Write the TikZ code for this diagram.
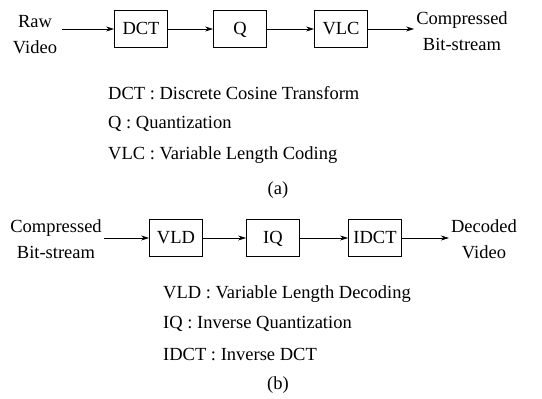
\documentclass[tikz,border=0pt]{standalone}
\usepackage{fontspec}
\setmainfont{Liberation Serif}
\usepackage{tikz}
\usetikzlibrary{arrows.meta,positioning,calc}

\begin{document}
\begin{tikzpicture}[x=1pt,y=-1pt,
    font=\fontsize{18.5}{26}\selectfont,
    block/.style={draw, line width=0.9pt, minimum width=53pt, minimum height=37pt, inner sep=0pt,
        text height=12.5pt, text depth=1.5pt},
    lbl/.style={align=center, inner sep=2pt},
    legend/.style={anchor=west, inner sep=0pt},
    arr/.style={-{Stealth[length=8pt,width=5pt]}, line width=0.7pt}]
    \useasboundingbox (0,0) rectangle (542,399);
    % (a) encoder
    \node[lbl] (raw) at (35,35) {Raw\\Video};
    \node[block] (dct) at (141,29) {DCT};
    \node[block] (q) at (240,29) {Q};
    \node[block] (vlc) at (341,29) {VLC};
    \node[lbl] (cbsa) at (462,31) {Compressed\\Bit-stream};
    \draw[arr] ($(raw.east |- dct)+(3,0)$) -- (dct);
    \draw[arr] (dct) -- (q);
    \draw[arr] (q) -- (vlc);
    \draw[arr] (vlc) -- (vlc -| cbsa.west);
    \node[legend] (ka) at (108,93) {DCT : Discrete Cosine Transform};
    \node[legend] (kb) at (108,124) {Q : Quantization};
    \node[legend] (kc) at (108,155) {VLC : Variable Length Coding};
    \node (capa) at (278,190) {(a)};
    % (b) decoder
    \node[lbl] (cbsb) at (56,239) {Compressed\\Bit-stream};
    \node[block] (vld) at (176,238) {VLD};
    \node[block] (iq) at (273,238) {IQ};
    \node[block] (idct) at (375,238) {IDCT};
    \node[lbl] (dec) at (484,239) {Decoded\\Video};
    \draw[arr] (cbsb.east |- vld) -- (vld);
    \draw[arr] (vld) -- (iq);
    \draw[arr] (iq) -- (idct);
    \draw[arr] (idct) -- (idct -| dec.west);
    \node[legend] (kd) at (163,294) {VLD : Variable Length Decoding};
    \node[legend] (ke) at (163,324) {IQ : Inverse Quantization};
    \node[legend] (kf) at (163,355) {IDCT : Inverse DCT};
    \node (capb) at (278,385) {(b)};
\end{tikzpicture}
\end{document}
